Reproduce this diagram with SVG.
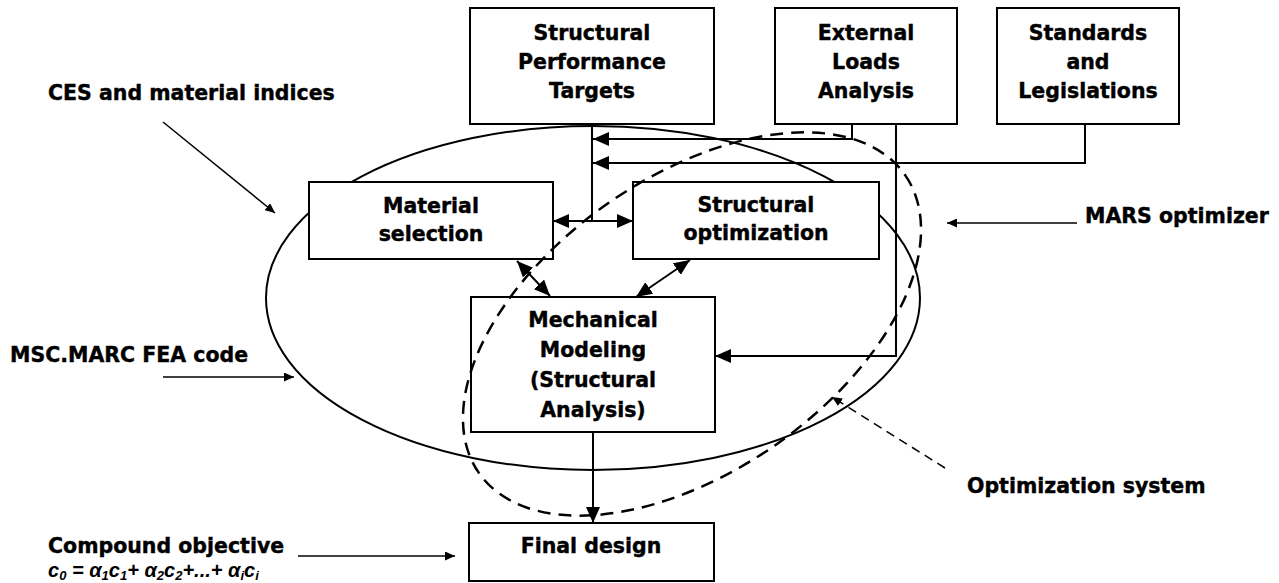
<svg xmlns="http://www.w3.org/2000/svg" width="1279" height="583" viewBox="0 0 1279 583">
<style>
.box{fill:#fff;stroke:#000;stroke-width:2}
.t{font-family:"DejaVu Sans",Verdana,sans-serif;font-weight:bold;font-size:20.5px;fill:#000;stroke:#000;stroke-width:0.4}
.c{text-anchor:middle}
.ln{fill:none;stroke:#000;stroke-width:2}
.an{fill:none;stroke:#000;stroke-width:1.5}
.f{font-family:"Liberation Sans",Arial,sans-serif;font-weight:bold;font-style:italic;font-size:20px;fill:#000}
.s{font-size:13px}
</style>
<defs>
<marker id="big" markerUnits="userSpaceOnUse" markerWidth="17" markerHeight="14" refX="16" refY="7" orient="auto-start-reverse">
<path d="M0,0 L16,7 L0,14 z" fill="#000"/>
</marker>
<marker id="sm" markerUnits="userSpaceOnUse" markerWidth="11" markerHeight="9" refX="10" refY="4.5" orient="auto">
<path d="M0,0 L10,4.5 L0,9 z" fill="#000"/>
</marker>
</defs>
<rect width="1279" height="583" fill="#fff"/>

<g id="solid-ellipse">
<ellipse cx="593" cy="298" rx="327" ry="172" class="ln"/>
</g>

<g id="connectors">
<polyline points="592,124 592,221" class="ln"/>
<line x1="553" y1="221" x2="633" y2="221" class="ln" marker-start="url(#big)" marker-end="url(#big)"/>
<polyline points="852,124 852,139 593,139" class="ln" marker-end="url(#big)"/>
<polyline points="1085,124 1085,163 593,163" class="ln" marker-end="url(#big)"/>
<polyline points="896,124 896,356 715,356" class="ln" marker-end="url(#big)"/>
<line x1="517" y1="261" x2="550" y2="296" class="ln" marker-start="url(#big)" marker-end="url(#big)"/>
<line x1="690" y1="260" x2="636" y2="297" class="ln" marker-start="url(#big)" marker-end="url(#big)"/>
<line x1="593" y1="432" x2="593" y2="523" class="ln" marker-end="url(#big)"/>
<line x1="163" y1="122" x2="275" y2="213" class="an" marker-end="url(#sm)"/>
<line x1="163" y1="377" x2="294" y2="377" class="an" marker-end="url(#sm)"/>
<line x1="1077" y1="223" x2="947" y2="223" class="an" marker-end="url(#sm)"/>
<line x1="298" y1="556" x2="455" y2="556" class="an" marker-end="url(#sm)"/>
<line x1="945" y1="468" x2="832" y2="397" class="an" stroke-dasharray="9 6" marker-end="url(#sm)"/>
</g>

<g id="spt">
<rect x="470" y="8" width="244" height="116" class="box"/>
<text class="t c" x="592" y="40">Structural</text>
<text class="t c" x="592" y="69">Performance</text>
<text class="t c" x="592" y="98">Targets</text>
</g>
<g id="ela">
<rect x="775" y="8" width="182" height="116" class="box"/>
<text class="t c" x="866" y="40">External</text>
<text class="t c" x="866" y="69">Loads</text>
<text class="t c" x="866" y="98">Analysis</text>
</g>
<g id="sal">
<rect x="997" y="8" width="182" height="116" class="box"/>
<text class="t c" x="1088" y="40">Standards</text>
<text class="t c" x="1088" y="69">and</text>
<text class="t c" x="1088" y="98">Legislations</text>
</g>
<g id="matsel">
<rect x="309" y="182" width="244" height="77" class="box"/>
<text class="t c" x="431" y="213">Material</text>
<text class="t c" x="431" y="241">selection</text>
</g>
<g id="structopt">
<rect x="633" y="182" width="246" height="77" class="box"/>
<text class="t c" x="756" y="212">Structural</text>
<text class="t c" x="756" y="240">optimization</text>
</g>
<g id="mech">
<rect x="471" y="297" width="244" height="135" class="box"/>
<text class="t c" x="593" y="327">Mechanical</text>
<text class="t c" x="593" y="357">Modeling</text>
<text class="t c" x="593" y="387">(Structural</text>
<text class="t c" x="593" y="417">Analysis)</text>
</g>
<g id="final">
<rect x="469" y="523" width="245" height="58" class="box"/>
<text class="t c" x="591" y="553">Final design</text>
</g>

<g id="dashed-ellipse">
<ellipse cx="692" cy="324" rx="260" ry="147" transform="rotate(-35 692 324)" fill="none" stroke="#000" stroke-width="2.5" stroke-dasharray="13 8"/>
</g>

<g id="labels">
<text class="t" x="48" y="100">CES and material indices</text>
<text class="t" x="10" y="362">MSC.MARC FEA code</text>
<text class="t" x="1085" y="223">MARS optimizer</text>
<text class="t" x="967" y="493">Optimization system</text>
<text class="t" x="48" y="553">Compound objective</text>
<text class="f" x="48" y="577">c<tspan class="s" dy="3">0</tspan><tspan dy="-3"> = α</tspan><tspan class="s" dy="3">1</tspan><tspan dy="-3">c</tspan><tspan class="s" dy="3">1</tspan><tspan dy="-3">+ α</tspan><tspan class="s" dy="3">2</tspan><tspan dy="-3">c</tspan><tspan class="s" dy="3">2</tspan><tspan dy="-3">+...+ α</tspan><tspan class="s" dy="3">i</tspan><tspan dy="-3">c</tspan><tspan class="s" dy="3">i</tspan></text>
</g>
</svg>
